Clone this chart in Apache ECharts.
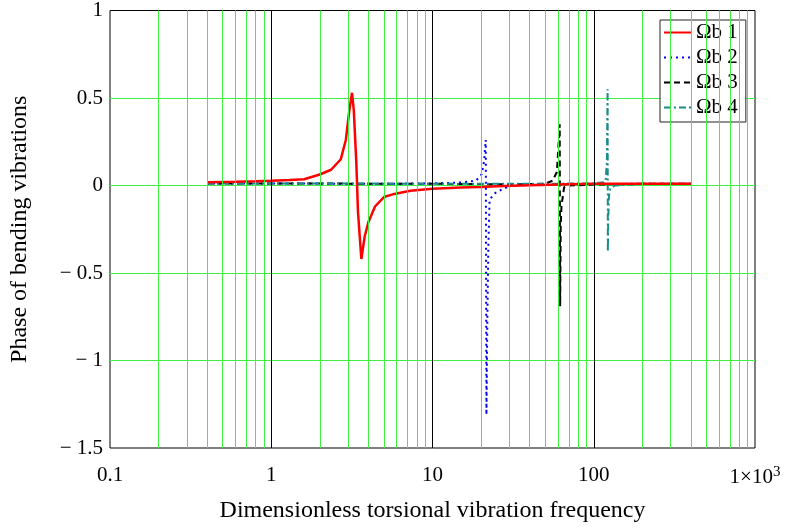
<!DOCTYPE html>
<html>
<head>
<meta charset="utf-8">
<script src="https://cdn.jsdelivr.net/npm/echarts@6/dist/echarts.min.js"></script>
<style>
html, body { margin: 0; padding: 0; background: #fff; }
#chart { width: 785px; height: 528px; }
</style>
</head>
<body>
<div id="chart"></div>
<script>
// Ωb 1 (red, solid)
var freq1 = [0.4, 0.6, 0.8, 1, 1.3, 1.6, 2, 2.35, 2.7, 2.9, 3.05, 3.17, 3.25, 3.37, 3.45, 3.62, 3.8, 4, 4.4, 5, 5.8, 7.3, 10, 15, 20, 25, 40, 70, 100, 200, 400];
var phase1 = [0.018, 0.021, 0.024, 0.027, 0.031, 0.036, 0.063, 0.09, 0.15, 0.26, 0.43, 0.53, 0.43, 0.13, -0.15, -0.42, -0.29, -0.21, -0.12, -0.066, -0.048, -0.03, -0.018, -0.012, -0.008, -0.004, 0.002, 0.007, 0.01, 0.01, 0.01];
// Ωb 2 (blue, dotted)
var freq2 = [0.4, 1, 3, 5, 10, 15, 18.6, 20.2, 20.9, 21.4, 21.6, 21.9, 22.2, 22.6, 24.5, 27.2, 31, 50, 100, 200, 400];
var phase2 = [0.012, 0.012, 0.01, 0.01, 0.012, 0.017, 0.027, 0.065, 0.14, 0.26, -1.31, -0.74, -0.35, -0.08, -0.043, -0.02, 0, 0.005, 0.008, 0.01, 0.01];
// Ωb 3 (black, dashed)
var freq3 = [0.4, 1, 5, 10, 20, 30, 50, 55.5, 59, 60.1, 60.9, 61.5, 61.9, 62.4, 63.1, 65.5, 70, 100, 200, 400];
var phase3 = [0.012, 0.012, 0.01, 0.01, 0.008, 0.006, 0.01, 0.027, 0.076, 0.19, 0.28, 0.35, -0.69, -0.23, -0.115, -0.01, 0, 0.005, 0.01, 0.01];
// Ωb 4 (teal, dash-dot)
var freq4 = [0.4, 1, 10, 50, 100, 115, 118.4, 120.6, 121.9, 122.3, 123, 124.2, 126.6, 135, 200, 400];
var phase4 = [0.012, 0.012, 0.01, 0.01, 0.012, 0.018, 0.027, 0.13, 0.55, -0.38, -0.2, -0.06, -0.02, 0, 0.008, 0.01];

var seriesNames = ['Ωb 1', 'Ωb 2', 'Ωb 3', 'Ωb 4'];
var xTicks = [0.1, 1, 10, 100, 1000];

var font = 'Liberation Serif';
var green = '#40f040';

function pairs(xs, ys) {
    var out = [];
    for (var i = 0; i < xs.length; i++) {
        out.push([xs[i], ys[i]]);
    }
    return out;
}

// green minor grid lines 2..9 in every decade, black on decades
var gridLines = [];
for (var d = 0; d < xTicks.length - 1; d++) {
    for (var m = 2; m <= 9; m++) {
        gridLines.push({ xAxis: +(xTicks[d] * m).toPrecision(3) });
    }
}
var majorLines = [{ xAxis: 1 }, { xAxis: 10 }, { xAxis: 100 }];

var myChart = echarts.init(document.getElementById('chart'));

var option = {
    animation: false,
    backgroundColor: '#fff',
    grid: {
        left: 108,
        right: 30,
        top: 10,
        bottom: 77,
        show: true,
        borderColor: '#000',
        borderWidth: 1
    },
    legend: {
        data: seriesNames,
        orient: 'vertical',
        left: 660,
        top: 20,
        padding: [2, 8, 4, 3],
        itemWidth: 27,
        itemHeight: 14,
        itemGap: 4,
        backgroundColor: '#fff',
        borderColor: '#222',
        borderWidth: 1,
        itemStyle: { color: 'rgba(0,0,0,0)', borderWidth: 0, opacity: 0 },
        textStyle: {
            fontFamily: font,
            fontSize: 21,
            lineHeight: 20,
            color: '#000'
        }
    },
    xAxis: {
        type: 'log',
        logBase: 10,
        min: 0.1,
        max: 1000,
        name: 'Dimensionless torsional vibration frequency',
        nameLocation: 'middle',
        nameGap: 51,
        nameTextStyle: { fontFamily: font, fontSize: 24, color: '#000' },
        axisLine: { show: false },
        axisTick: { show: false },
        splitLine: { show: false },
        axisLabel: {
            margin: 17,
            fontFamily: font,
            fontSize: 21,
            color: '#000',
            formatter: function (v) {
                var r = +v.toPrecision(3);
                if (r >= 1000) return '1×10{sup|3}';
                return String(r);
            },
            rich: {
                sup: { fontFamily: font, fontSize: 15, verticalAlign: 'top', padding: [0, 0, 9, 0] }
            }
        }
    },
    yAxis: {
        type: 'value',
        min: -1.5,
        max: 1,
        interval: 0.5,
        name: 'Phase of bending vibrations',
        nameLocation: 'middle',
        nameGap: 78,
        nameTextStyle: { fontFamily: font, fontSize: 24, color: '#000' },
        axisLine: { show: false },
        axisTick: { show: false },
        splitLine: {
            show: true,
            showMinLine: false,
            showMaxLine: false,
            lineStyle: { color: green, width: 1 }
        },
        axisLabel: {
            margin: 7,
            fontFamily: font,
            fontSize: 21,
            color: '#000',
            formatter: function (v) {
                if (v < 0) return '− ' + String(-v);
                return String(v);
            }
        }
    },
    series: [
        {
            name: 'grid',
            type: 'line',
            data: [],
            silent: true,
            markLine: {
                silent: true,
                symbol: ['none', 'none'],
                label: { show: false },
                lineStyle: { type: 'solid', color: green, width: 1 },
                data: gridLines
            }
        },
        {
            name: 'major',
            type: 'line',
            data: [],
            silent: true,
            markLine: {
                silent: true,
                symbol: ['none', 'none'],
                label: { show: false },
                lineStyle: { type: 'solid', color: '#000', width: 1 },
                data: majorLines
            }
        },
        {
            name: seriesNames[1],
            type: 'line',
            symbol: 'none',
            data: pairs(freq2, phase2),
            color: '#0000ff',
            lineStyle: { color: '#0000ff', width: 2, type: [2, 4] }
        },
        {
            name: seriesNames[2],
            type: 'line',
            symbol: 'none',
            data: pairs(freq3, phase3),
            color: '#000',
            lineStyle: { color: '#000', width: 2, type: [6, 4] }
        },
        {
            name: seriesNames[3],
            type: 'line',
            symbol: 'none',
            data: pairs(freq4, phase4),
            color: '#1a8c8c',
            lineStyle: { color: '#1a8c8c', width: 2, type: [7, 3, 2, 3] }
        },
        {
            name: seriesNames[0],
            type: 'line',
            symbol: 'none',
            data: pairs(freq1, phase1),
            color: '#ff0000',
            lineStyle: { color: '#ff0000', width: 2.5 }
        }
    ]
};

myChart.setOption(option);
</script>
</body>
</html>
